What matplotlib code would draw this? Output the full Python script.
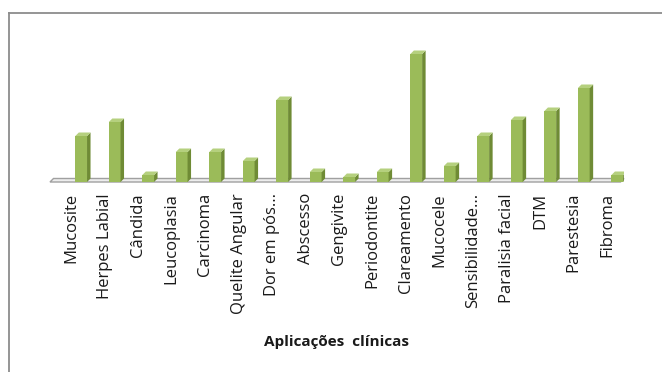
import matplotlib
matplotlib.use("Agg")
import matplotlib.pyplot as plt
from matplotlib.patches import Polygon
from matplotlib.lines import Line2D

# categories and bar heights
categorias = ["Mucosite", "Herpes Labial", "Cândida", "Leucoplasia", "Carcinoma",
              "Quelite Angular", "Dor em pós...", "Abscesso", "Gengivite",
              "Periodontite", "Clareamento", "Mucocele", "Sensibilidade...",
              "Paralisia facial", "DTM", "Parestesia", "Fibroma"]
valores = [46, 60, 7, 30, 30, 21, 82, 10, 5, 10, 128, 16, 46, 62, 71, 94, 7]

cor_frente = "#9BBB59"
cor_lado = "#6F8B35"
cor_topo = "#B5D07E"

plt.rcParams['font.family'] = ['Open Sans', 'DejaVu Sans']

fig = plt.figure(figsize=(6.62, 3.72), dpi=100)
ax = fig.add_axes([50 / 662, 190 / 372, 574 / 662, 140 / 372])
ax.set_xlim(-0.93, 16.2)
ax.set_ylim(0, 140)
ax.axis("off")

x = list(range(len(categorias)))
larg = 0.35
bars = ax.bar(x, valores, width=larg, color=cor_frente, zorder=3)

# 3d depth in data units (x in categories, y in px-like units)
px_x = (ax.transData.transform((1, 0)) - ax.transData.transform((0, 0)))[0]
dx = 3.5 / px_x
dy = 3.5

# floor
x0, x1 = ax.get_xlim()
ax.add_patch(Polygon([(x0, 0), (x1 - dx, 0), (x1, dy), (x0 + dx, dy)],
                     closed=True, facecolor="#EDEDED", edgecolor="#A0A0A0",
                     lw=1.0, zorder=1, clip_on=False))

for b in bars:
    l = b.get_x()
    r = l + b.get_width()
    h = b.get_height()
    ax.add_patch(Polygon([(r, 0), (r + dx, dy), (r + dx, h + dy), (r, h)],
                         closed=True, facecolor=cor_lado, edgecolor="none", zorder=3))
    ax.add_patch(Polygon([(l, h), (r, h), (r + dx, h + dy), (l + dx, h + dy)],
                         closed=True, facecolor=cor_topo, edgecolor="none", zorder=3))

for i, nome in enumerate(categorias):
    ax.text(i - 0.3, -11, nome, rotation=90, ha="center", va="top",
            fontsize=12, color="#1a1a1a", clip_on=False)

fig.text(336 / 662, 1 - 342 / 372, "Aplicações  clínicas", ha="center", va="center",
         fontsize=11, fontweight="bold", color="#1a1a1a")

# chart frame (top and left edges)
fig.add_artist(Line2D([8.5 / 662, 1], [1 - 12.5 / 372, 1 - 12.5 / 372],
                      color="#8C8C8C", lw=1.3))
fig.add_artist(Line2D([8.5 / 662, 8.5 / 662], [0, 1 - 12.5 / 372],
                      color="#8C8C8C", lw=1.3))

fig.savefig("out.png", dpi=100)
